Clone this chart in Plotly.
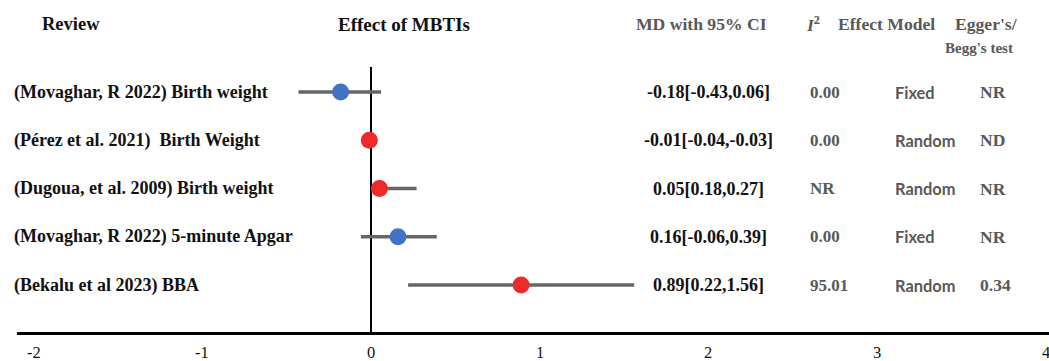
import plotly.graph_objects as go

reviews = ["(Movaghar, R 2022) Birth weight", "(Pérez et al. 2021)  Birth Weight",
           "(Dugoua, et al. 2009) Birth weight", "(Movaghar, R 2022) 5-minute Apgar",
           "(Bekalu et al 2023) BBA"]
md = [-0.18, -0.01, 0.05, 0.16, 0.89]
ci_low = [-0.43, -0.04, 0.02, -0.06, 0.22]
ci_high = [0.06, -0.03, 0.27, 0.39, 1.56]
md_text = ["-0.18[-0.43,0.06]", "-0.01[-0.04,-0.03]", "0.05[0.18,0.27]",
           "0.16[-0.06,0.39]", "0.89[0.22,1.56]"]
i2 = ["0.00", "0.00", "NR", "0.00", "95.01"]
model = ["Fixed", "Random", "Random", "Fixed", "Random"]
egger = ["NR", "ND", "NR", "NR", "0.34"]
colors = ["#4472C4", "#EE2A2A", "#EE2A2A", "#4472C4", "#EE2A2A"]
xticks = [-2, -1, 0, 1, 2, 3, 4]

W, H = 1049, 361
L, B = 17, 29
PPU = 168.67  # pixels per unit
X0PX = 371    # pixel of x=0
ROW0PX, ROWSTEP = 92, 48.25
plot_h = H - B

def xpx(p):
    return (p - X0PX) / PPU

def xpaper(p):
    return (p - L) / (W - L)

def ypx(p):
    return (p - ROW0PX) / ROWSTEP

def ypaper(p):
    return (plot_h - p) / plot_h

rows = list(range(len(reviews)))
fig = go.Figure()

for i in rows:
    fig.add_trace(go.Scatter(x=[ci_low[i], ci_high[i]], y=[i, i], mode="lines",
                             line=dict(color="#666666", width=3.5),
                             hoverinfo="skip", showlegend=False))
fig.add_trace(go.Scatter(x=md, y=rows, mode="markers",
                         marker=dict(color=colors, size=17, line=dict(width=0)),
                         showlegend=False))

fig.add_shape(type="line", xref="x", yref="y", x0=0, x1=0, y0=ypx(67), y1=ypx(plot_h),
              line=dict(color="black", width=2), layer="below")

serif = "Liberation Serif, Times New Roman, serif"
sans = "Lato, Noto Sans, sans-serif"
gray = "#595959"

def ann(text, xp, y, size=18, color="black", family=serif, anchor="left"):
    fig.add_annotation(text=text, x=xpaper(xp), y=y, xref="paper", yref="y",
                       showarrow=False, xanchor=anchor, yanchor="middle",
                       font=dict(family=family, size=size, color=color))

hy = ypx(24)
ann("<b>Review</b>", 40, hy, size=18.5, color="#111111")
ann("<b>Effect of MBTIs</b>", 404, hy, size=19, color="#111111", anchor="center")
ann("<b>MD with 95% CI</b>", 701, hy, size=17.6, color=gray, anchor="center")
ann("<b><i>I</i><sup>2</sup></b>", 804, hy, size=17.6, color=gray)
ann("<b>Effect Model</b>", 836, hy, size=17.6, color=gray)
ann("<b>Egger's/</b>", 953, hy, size=17.6, color=gray)
ann("<b>Begg's test</b>", 1015, ypx(48), size=15, color=gray, anchor="right")

for i in rows:
    ann("<b>" + reviews[i] + "</b>", 12, i, color="#111111")
    ann("<b>" + md_text[i] + "</b>", 708, i, color="#111111", anchor="center")
    ann("<b>" + i2[i] + "</b>", 808, i, size=17, color=gray)
    ann("<b>" + model[i] + "</b>", 893, i, size=16.4, color=gray, family=sans)
    ann("<b>" + egger[i] + "</b>", 978, i, size=17.5, color=gray)

for t in xticks:
    fig.add_annotation(text=str(t), x=t, y=ypaper(352), xref="x", yref="paper",
                       showarrow=False, xanchor="center", yanchor="middle",
                       font=dict(family=serif, size=16.5, color="#111111"))

fig.update_layout(
    width=W, height=H, margin=dict(l=L, r=0, t=0, b=B),
    plot_bgcolor="white", paper_bgcolor="white",
    xaxis=dict(range=[xpx(L), xpx(W)], showticklabels=False,
               showgrid=False, zeroline=False, showline=True, linecolor="black", linewidth=3,
               ticks=""),
    yaxis=dict(range=[ypx(plot_h), ypx(0)], visible=False, showgrid=False, zeroline=False),
)
fig.write_html("out.html", config={"displayModeBar": False},
               post_script="document.body.style.margin='0';document.body.style.overflow='hidden';")
